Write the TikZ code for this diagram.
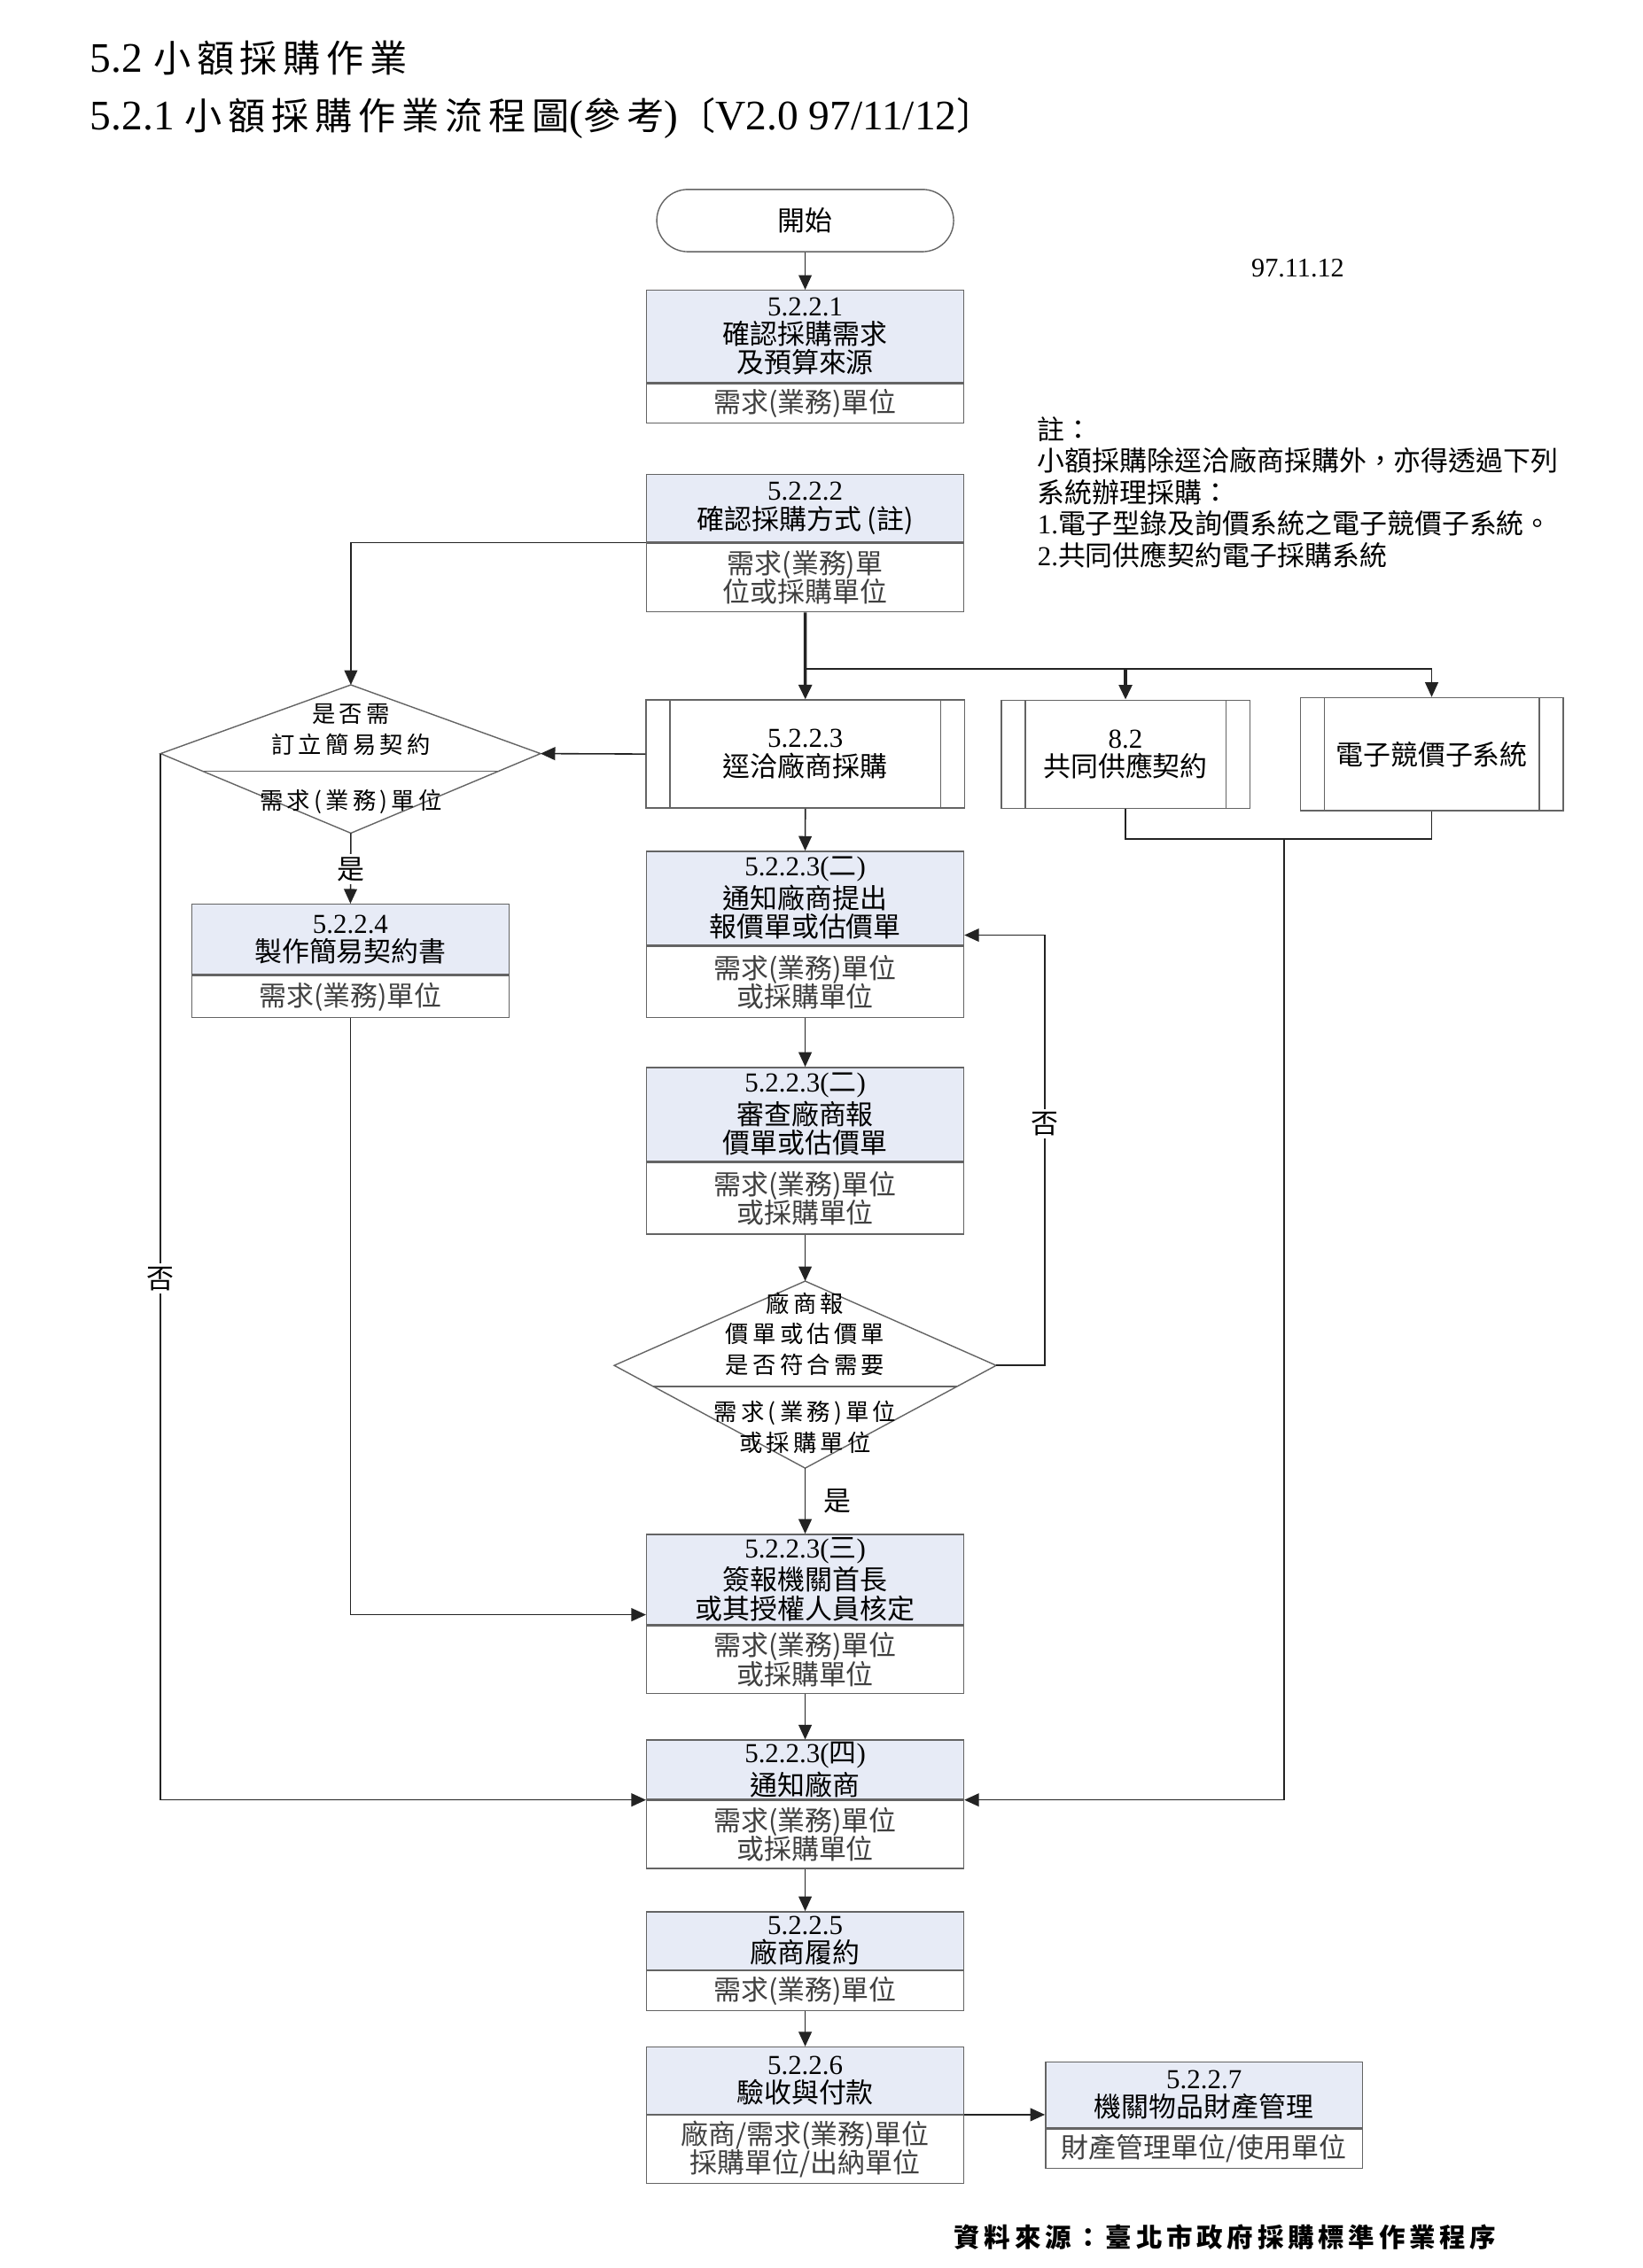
\documentclass[tikz,border=0pt]{standalone}
\usepackage{fontspec}
\setmainfont{Liberation Serif}
\newfontfamily\cjk{Noto Sans CJK TC}
\newfontfamily\cjksp{Noto Sans CJK TC}[LetterSpace=16]
\usetikzlibrary{positioning,arrows.meta,calc}
\definecolor{hdrfill}{RGB}{231,235,246}
\definecolor{boxline}{RGB}{100,100,100}
\definecolor{lnc}{RGB}{35,35,35}
\newcommand\boxfont{\cjk\fontsize{8.8}{9.2}\selectfont}
\newcommand\dfont{\cjksp\fontsize{7.5}{9.8}\selectfont}
\newcommand\tcj{\cjksp\fontsize{12}{16}\selectfont}
\newcommand\nb[1]{{\rmfamily #1}}

\begin{document}
\begin{tikzpicture}[x=0.4645pt,y=-0.4645pt,
   hdr/.style={draw=boxline,fill=hdrfill,minimum width=101.8pt,inner sep=0pt,align=center,font=\boxfont},
   body/.style={draw=boxline,fill=white,minimum width=101.8pt,inner sep=0pt,align=center,font=\boxfont,text=black!75},
   procbox/.style={draw=boxline,inner sep=0pt,align=center,font=\boxfont,
      path picture={\draw[boxline] ([xshift=7.7pt]path picture bounding box.north west) -- ([xshift=7.7pt]path picture bounding box.south west);
                    \draw[boxline] ([xshift=-7.7pt]path picture bounding box.north east) -- ([xshift=-7.7pt]path picture bounding box.south east);}},
   term/.style={draw=boxline,rounded corners=10pt,minimum width=95.3pt,minimum height=20pt,font=\boxfont},
   arr/.style={draw=lnc,line width=0.45pt,-{Triangle[length=4.7pt,width=4.2pt]}},
   link/.style={draw=lnc,line width=0.45pt},
   lbl/.style={fill=white,inner sep=1pt,font=\boxfont},
   plain/.style={anchor=west,inner sep=0pt}]

\useasboundingbox (0,0) rectangle (1135,1568);

\node[plain,font=\fontsize{13.5}{16}\selectfont] (t1) at (62,40) {5.2 {\tcj 小額採購作業}};
\node[plain,font=\fontsize{13.5}{16}\selectfont] (t2) at (62,82) {5.2.1 {\tcj 小額採購作業流程圖}({\tcj 參考}){\tcj 〔}V2.0 97/11/12{\tcj 〕}};

\node[term] (start) at (556.5,152.5) {開始};
\node[font=\rmfamily\fontsize{8.6}{10}\selectfont] (date) at (897,185.7) {97.11.12};

\node[hdr,minimum height=29.6pt] (b1h) at (556.5,232.6) {\nb{5.2.2.1}\\確認採購需求\\及預算來源};
\node[body,minimum height=12.6pt,below=0pt of b1h] (b1b) {需求(業務)單位};

\node[hdr,minimum height=21.7pt] (b2h) at (556.5,351.4) {\nb{5.2.2.2}\\確認採購方式 (註)};
\node[body,minimum height=22pt,below=0pt of b2h] (b2b) {需求(業務)單\\位或採購單位};

\node[plain,align=left,font=\cjk\fontsize{8.8}{10.1}\selectfont] (note) at (716.7,340.4)
   {註：\\小額採購除逕洽廠商採購外，亦得透過下列\\系統辦理採購：\\\nb{1.}電子型錄及詢價系統之電子競價子系統。\\\nb{2.}共同供應契約電子採購系統};

\node[procbox,minimum width=102.2pt,minimum height=34.7pt] (p1) at (556.6,521.3) {\nb{5.2.2.3}\\逕洽廠商採購};
\node[procbox,minimum width=79.8pt,minimum height=34.7pt] (p2) at (777.9,521.4) {\nb{8.2}\\共同供應契約};
\node[procbox,minimum width=84.4pt,minimum height=36.3pt] (p3) at (989.5,521.4) {電子競價子系統};

\coordinate (d1t) at (242.5,473.5);
\coordinate (d1r) at (373.6,521);
\coordinate (d1b) at (242.5,576);
\coordinate (d1l) at (111,521);
\draw[boxline] (d1t) -- (d1r) -- (d1b) -- (d1l) -- cycle;
\draw[boxline] ($(d1l)!.22!(d1b)$) -- ($(d1r)!.22!(d1b)$);
\node[align=center,font=\dfont] (d1q) at (242.5,504.5) {是否需\\訂立簡易契約};
\node[font=\dfont] (d1w) at (242.5,554) {需求(業務)單位};

\node[hdr,minimum height=22.6pt] (b10h) at (242.2,649.5) {\nb{5.2.2.4}\\製作簡易契約書};
\node[body,minimum height=13.4pt,below=0pt of b10h] (b10b) {需求(業務)單位};

\node[hdr,minimum height=30.1pt] (b3h) at (556.5,621) {\nb{5.2.2.3(}二\nb{)}\\通知廠商提出\\報價單或估價單};
\node[body,minimum height=22.9pt,below=0pt of b3h] (b3b) {需求(業務)單位\\或採購單位};

\node[hdr,minimum height=30.1pt] (b4h) at (556.5,770.4) {\nb{5.2.2.3(}二\nb{)}\\審查廠商報\\價單或估價單};
\node[body,minimum height=23pt,below=0pt of b4h] (b4b) {需求(業務)單位\\或採購單位};

\coordinate (d2t) at (556.5,885.7);
\coordinate (d2r) at (688.5,944);
\coordinate (d2b) at (556.5,1015);
\coordinate (d2l) at (424.5,944);
\draw[boxline] (d2t) -- (d2r) -- (d2b) -- (d2l) -- cycle;
\draw[boxline] ($(d2l)!.206!(d2b)$) -- ($(d2r)!.206!(d2b)$);
\node[align=center,font=\dfont] (d2q) at (556.5,922) {廠商報\\價單或估價單\\是否符合需要};
\node[align=center,font=\dfont] (d2w) at (556.5,986.7) {需求(業務)單位\\或採購單位};

\node[hdr,minimum height=28.9pt] (b5h) at (556.5,1091.9) {\nb{5.2.2.3(}三\nb{)}\\簽報機關首長\\或其授權人員核定};
\node[body,minimum height=21.8pt,below=0pt of b5h] (b5b) {需求(業務)單位\\或採購單位};

\node[hdr,minimum height=19pt] (b6h) at (556.5,1223.5) {\nb{5.2.2.3(}四\nb{)}\\通知廠商};
\node[body,minimum height=21.8pt,below=0pt of b6h] (b6b) {需求(業務)單位\\或採購單位};

\node[hdr,minimum height=18.6pt] (b7h) at (556.5,1341.7) {\nb{5.2.2.5}\\廠商履約};
\node[body,minimum height=12.7pt,below=0pt of b7h] (b7b) {需求(業務)單位};

\node[hdr,minimum height=21.5pt] (b8h) at (556.5,1438.4) {\nb{5.2.2.6}\\驗收與付款};
\node[body,minimum height=21.8pt,below=0pt of b8h] (b8b) {廠商/需求(業務)單位\\採購單位/出納單位};

\node[hdr,minimum height=21.1pt] (b9h) at (832.2,1448.3) {\nb{5.2.2.7}\\機關物品財產管理};
\node[body,minimum height=12.7pt,below=0pt of b9h] (b9b) {財產管理單位/使用單位};

\node[plain,font=\cjksp\bfseries\fontsize{8.4}{10}\selectfont] (src) at (659,1546.6) {資料來源：臺北市政府採購標準作業程序};

\coordinate (br) at (556.5,462.5);
\coordinate (jn) at (887.5,580);

\draw[arr] (start) -- (b1h);
\draw[arr] (b2h.south west) -| (d1t);
\draw[arr,line width=1pt] (b2b.south) -- (p1.north);
\draw[arr] (br) -| (p3.north);
\draw[link] (br) -- (br -| p2.north);
\draw[arr,line width=0.9pt] (br -| p2.north) -- (p2.north);
\draw[arr] (p1.west) -- (d1r);
\draw[arr] (d1b) -- (b10h.north);
\draw[arr] (d1l) |- (b6h.south west);
\draw[arr] (p1.south) -- (b3h.north);
\draw[arr] (b3b.south) -- (b4h.north);
\draw[arr] (b4b.south) -- (d2t);
\draw[arr] (d2r) -- ++(33.5,0) |- ([yshift=3.4pt]b3h.south east);
\draw[arr] (d2b) -- (b5h.north);
\draw[arr] (b10b.south) |- ([yshift=3.3pt]b5h.south west);
\draw[link] (p2.south) -- ++(0,21) -| (p3.south);
\draw[arr] (jn) |- (b6h.south east);
\draw[arr] (b5b.south) -- (b6h.north);
\draw[arr] (b6b.south) -- (b7h.north);
\draw[arr] (b7b.south) -- (b8h.north);
\draw[arr] (b8h.south east) -- (b8h.south east -| b9h.west);

\node[lbl] (yes1) at (242.5,601) {是};
\node[lbl] (no1) at (111,884) {否};
\node[lbl] (no2) at (722,777) {否};
\node[font=\boxfont] (yes2) at (579,1038) {是};

\end{tikzpicture}
\end{document}
